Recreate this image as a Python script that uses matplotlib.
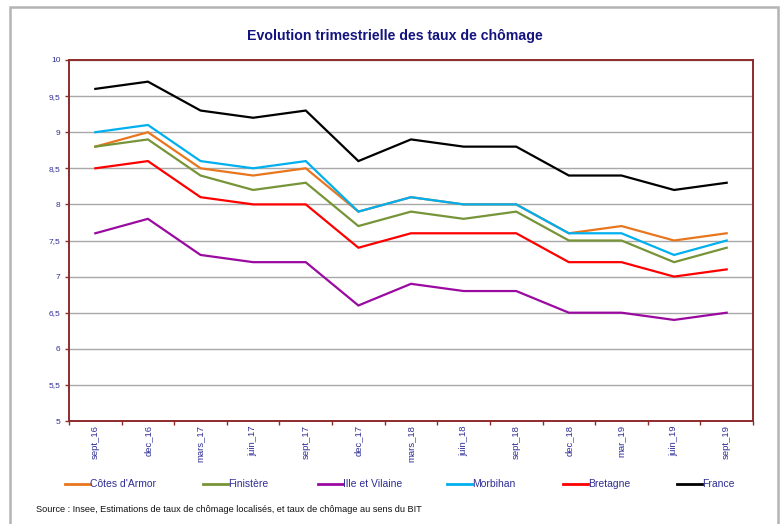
import matplotlib
matplotlib.use("Agg")
import matplotlib.pyplot as plt
from matplotlib.lines import Line2D
from matplotlib.patches import Rectangle
from matplotlib.ticker import FuncFormatter

plt.rcParams["font.family"] = ["Liberation Sans", "DejaVu Sans"]

# ---------------- Données ----------------
trimestres = ["sept_16", "dec_16", "mars_17", "juin_17", "sept_17", "dec_17",
              "mars_18", "juin_18", "sept_18", "dec_18", "mar_19", "juin_19", "sept_19"]

cotes_armor = [8.8, 9.0, 8.5, 8.4, 8.5, 7.9, 8.1, 8.0, 8.0, 7.6, 7.7, 7.5, 7.6]
finistere = [8.8, 8.9, 8.4, 8.2, 8.3, 7.7, 7.9, 7.8, 7.9, 7.5, 7.5, 7.2, 7.4]
ille_vilaine = [7.6, 7.8, 7.3, 7.2, 7.2, 6.6, 6.9, 6.8, 6.8, 6.5, 6.5, 6.4, 6.5]
morbihan = [9.0, 9.1, 8.6, 8.5, 8.6, 7.9, 8.1, 8.0, 8.0, 7.6, 7.6, 7.3, 7.5]
bretagne = [8.5, 8.6, 8.1, 8.0, 8.0, 7.4, 7.6, 7.6, 7.6, 7.2, 7.2, 7.0, 7.1]
france = [9.6, 9.7, 9.3, 9.2, 9.3, 8.6, 8.9, 8.8, 8.8, 8.4, 8.4, 8.2, 8.3]

series = [
    ("Côtes d'Armor", cotes_armor, "#E8761E"),
    ("Finistère", finistere, "#779438"),
    ("Ille et Vilaine", ille_vilaine, "#9A0AA0"),
    ("Morbihan", morbihan, "#00B0EE"),
    ("Bretagne", bretagne, "#FF0000"),
    ("France", france, "#000000"),
]

# ---------------- Style ----------------
W, H = 781, 524
axe_col = "#8E2B2B"
txt_col = "#2E2E96"

fig = plt.figure(figsize=(W / 100, H / 100), dpi=100)
fig.patch.set_facecolor("white")

# cadre gris extérieur
fig.add_artist(Rectangle((10 / W, -0.05), 768 / W, 1 - 7 / H + 0.05,
                         transform=fig.transFigure, fill=False,
                         edgecolor="#B4B4B4", linewidth=1.8, clip_on=False))

ax = fig.add_axes([69 / W, 1 - 421 / H, (753 - 69) / W, (421 - 60) / H])

x = list(range(len(trimestres)))
for nom, vals, col in series:
    ax.plot(x, vals, color=col, linewidth=1.6, solid_joinstyle="miter", zorder=3)

ax.set_xlim(-0.5, len(trimestres) - 0.5)
ax.set_ylim(5, 10)
ax.set_yticks([5 + 0.5 * i for i in range(11)])
ax.yaxis.set_major_formatter(FuncFormatter(
    lambda v, p: (f"{v:g}").replace(".", ",")))
ax.yaxis.grid(True, color="#A8A8A8", linewidth=1.0)
ax.set_axisbelow(True)

ax.set_xticks(x)
ax.set_xticklabels(trimestres, rotation=90, fontsize=6.8, color=txt_col)
ax.set_xticks([i - 0.5 for i in range(len(trimestres) + 1)], minor=True)
ax.tick_params(axis="x", which="major", length=0, pad=3)
ax.tick_params(axis="x", which="minor", length=3, color=axe_col, width=1)
ax.tick_params(axis="y", labelsize=6, labelcolor=txt_col, length=3,
               color=axe_col, width=1, pad=3)

for s in ax.spines.values():
    s.set_color(axe_col)
    s.set_linewidth(1.4)

fig.text(395 / W, 1 - 36 / H, "Evolution trimestrielle des taux de chômage",
         ha="center", va="center", fontsize=10.2, fontweight="bold",
         color="#141480")

# légende manuelle
ly = 1 - 484 / H
leg_x = [65, 203, 318, 447, 563, 677]
for x0, (nom, vals, col) in zip(leg_x, series):
    fig.add_artist(Line2D([x0 / W, (x0 + 25) / W], [ly, ly], color=col,
                          linewidth=2.0, transform=fig.transFigure))
    fig.text((x0 + 25) / W, ly, nom, ha="left", va="center", fontsize=7.5,
             color=txt_col)

fig.text(36 / W, 1 - 509 / H,
         "Source : Insee, Estimations de taux de chômage localisés, "
         "et taux de chômage au sens du BIT",
         ha="left", va="center", fontsize=6.6, color="#111111")

fig.savefig("out.png", dpi=100)
